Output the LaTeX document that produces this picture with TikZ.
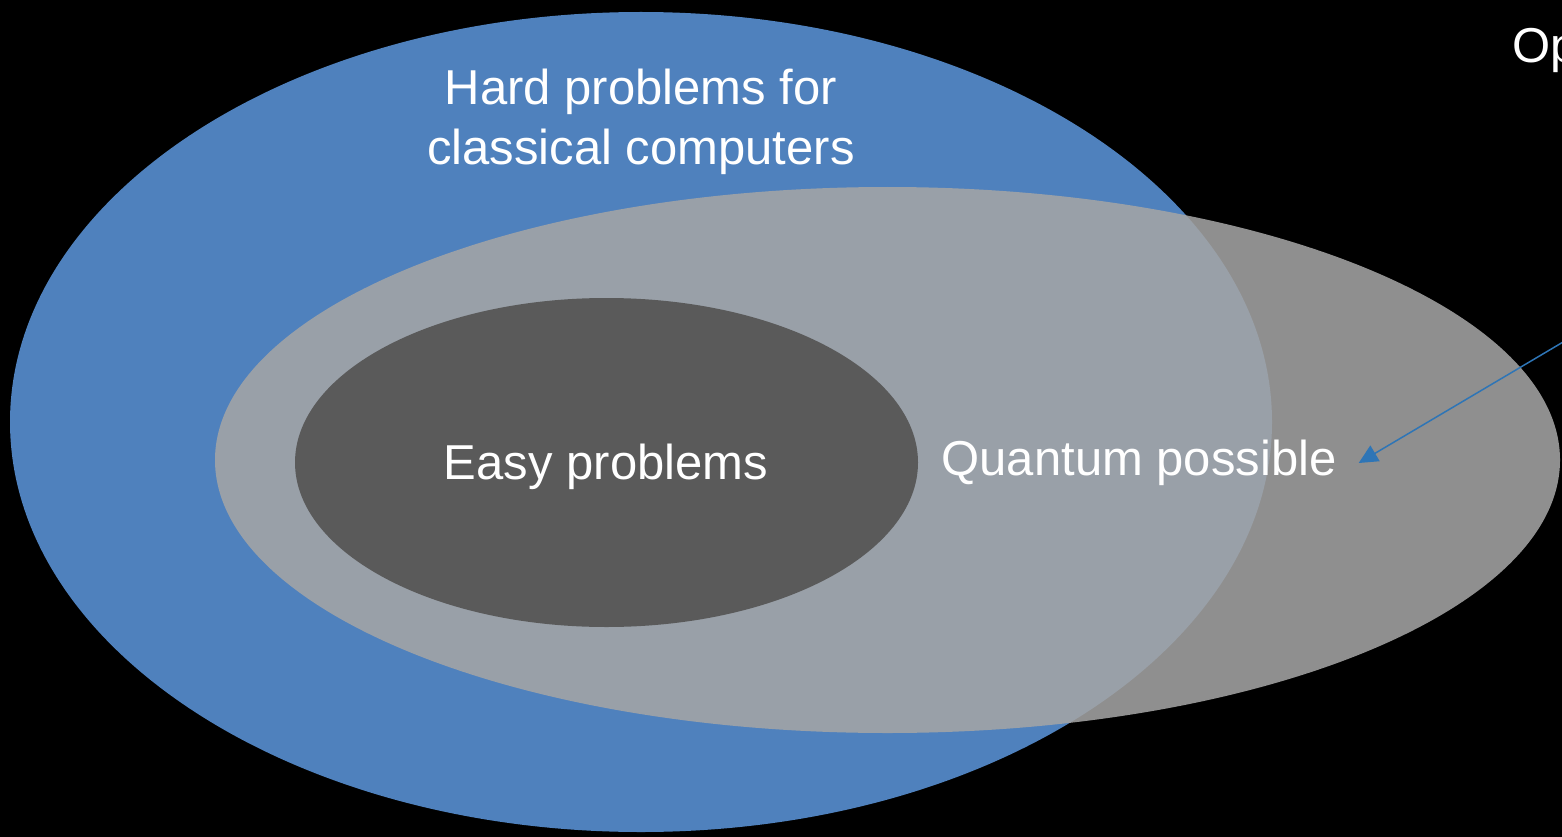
\documentclass[tikz,border=0pt]{standalone}
\usepackage{fontspec}
\setmainfont{Liberation Sans}
\usetikzlibrary{arrows.meta}
\definecolor{hardblue}{RGB}{79,129,189}
\definecolor{quantgray}{RGB}{165,165,165}
\definecolor{easygray}{RGB}{90,90,90}
\definecolor{arrowblue}{RGB}{46,117,182}
\tikzset{
  label text/.style={text=white,font=\fontsize{49}{60}\selectfont,align=center},
}
\begin{document}
\begin{tikzpicture}[x=1pt,y=-1pt]
		% background
		\fill[black] (0,0) rectangle (1562,837);
		\useasboundingbox (0,0) rectangle (1562,837);
		\clip (0,0) rectangle (1562,837);
		% sets
		\fill[hardblue] (641,422) ellipse [x radius=631, y radius=410];
		\fill[quantgray,opacity=0.87] (887.5,460) ellipse [x radius=672.5, y radius=273];
		\fill[easygray] (606.5,462.5) ellipse [x radius=311.5, y radius=164.5];
		% labels
		\node [label text] (hard) at (641,122) {Hard problems for\\classical computers};
		\node [label text] (easy) at (606,467) {Easy problems};
		\node [label text,inner sep=22pt] (qp) at (1139,463) {Quantum possible};
		\node [label text,anchor=west,inner sep=0pt] (op) at (1512,50) {Op};
		% annotation
		\coordinate (opline) at (1580,332);
		\draw[arrowblue,line width=1.5pt,-{Triangle[length=19pt,width=18pt]}]
		(opline) -- (qp.east);
	\end{tikzpicture}
\end{document}
